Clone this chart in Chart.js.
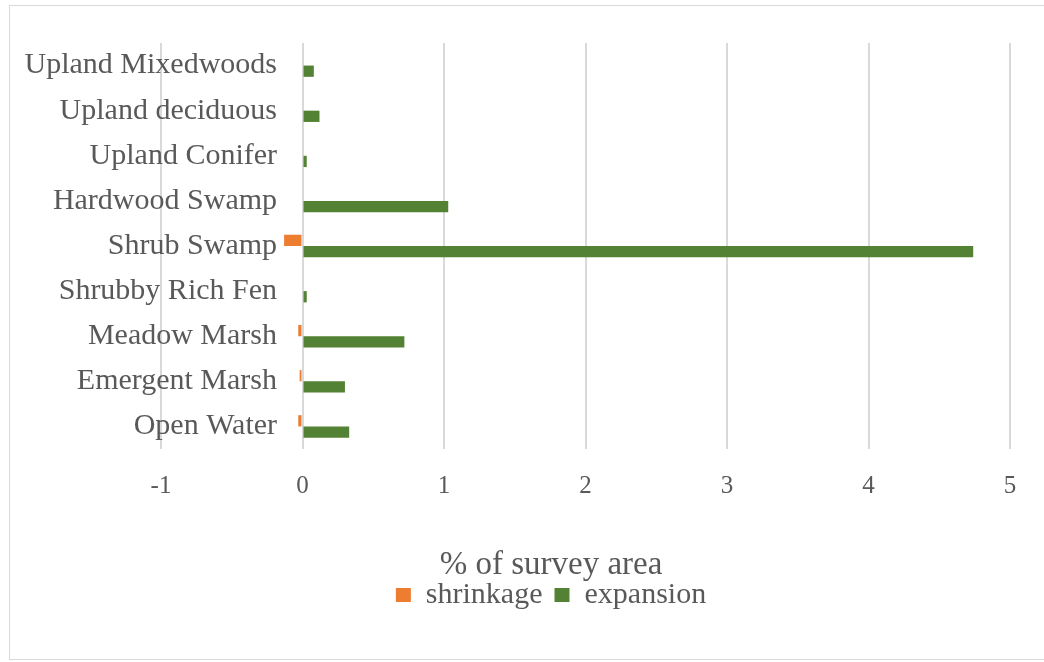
<!DOCTYPE html>
<html><head><meta charset="utf-8">
<script src="https://cdn.jsdelivr.net/npm/chart.js@4/dist/chart.umd.min.js"></script>
<style>
html,body{margin:0;padding:0;background:#fff;}
#wrap{position:relative;width:1044px;height:662px;overflow:hidden;}
#frame{position:absolute;left:9px;top:5px;width:1045px;height:655px;border:1.5px solid #d9d9d9;box-sizing:border-box;}
canvas{position:absolute;left:0;top:0;}
</style></head><body>
<div id="wrap"><div id="frame"></div><canvas id="c" width="1044" height="662"></canvas></div>
<script>
const categories = ["Upland Mixedwoods","Upland deciduous","Upland Conifer","Hardwood Swamp","Shrub Swamp","Shrubby Rich Fen","Meadow Marsh","Emergent Marsh","Open Water"];
const shrinkage = [0, 0, 0, 0, -0.13, 0, -0.03, -0.02, -0.03];
const expansion = [0.08, 0.12, 0.03, 1.03, 4.74, 0.03, 0.72, 0.30, 0.33];
const xTicks = [-1, 0, 1, 2, 3, 4, 5];
const axisTitle = "% of survey area";

const FONT = "'Liberation Serif', 'Times New Roman', serif";
const TXT = "#595959";

new Chart(document.getElementById('c'), {
  type: 'bar',
  data: {
    labels: categories,
    datasets: [
      { label: 'shrinkage', data: shrinkage, backgroundColor: '#ED7D31', borderWidth: 0,
        categoryPercentage: 0.5, barPercentage: 1.0 },
      { label: 'expansion', data: expansion, backgroundColor: '#548235', borderWidth: 0,
        categoryPercentage: 0.5, barPercentage: 1.0 }
    ]
  },
  options: {
    indexAxis: 'y',
    responsive: false,
    animation: false,
    devicePixelRatio: 1,
    layout: { padding: { left: 58, right: 0, top: 43, bottom: 42 } },
    scales: {
      x: {
        type: 'linear', min: -1, max: 5,
        afterBuildTicks: s => { s.ticks = xTicks.map(v => ({ value: v })); },
        grid: { color: '#d9d9d9', lineWidth: 2, drawTicks: false },
        border: { display: false },
        ticks: { color: TXT, font: { family: FONT, size: 25 }, padding: 22 }
      },
      y: {
        type: 'category',
        position: { x: -0.18 },
        grid: { display: false, drawTicks: false },
        border: { display: false },
        ticks: { color: TXT, font: { family: FONT, size: 30 }, padding: 0 }
      },
      padLeft: {
        type: 'linear', position: 'left', axis: 'y',
        grid: { display: false, drawTicks: false }, border: { display: false },
        ticks: { display: false },
        afterFit: s => { s.width = 103; }
      },
      padRight: {
        type: 'linear', position: 'right', axis: 'y',
        grid: { display: false, drawTicks: false }, border: { display: false },
        ticks: { display: false },
        afterFit: s => { s.width = 34; }
      }
    },
    plugins: {
      tooltip: { enabled: false },
      title: {
        display: true, position: 'bottom', text: axisTitle, weight: 500,
        color: TXT, font: { family: FONT, size: 33, weight: 'normal', lineHeight: 1 },
        padding: { top: 26, bottom: -14 }
      },
      legend: {
        display: true, position: 'bottom',
        labels: { color: TXT, font: { family: FONT, size: 30 }, boxWidth: 15, boxHeight: 14, padding: 12 }
      }
    }
  }
});
</script>
</body></html>
